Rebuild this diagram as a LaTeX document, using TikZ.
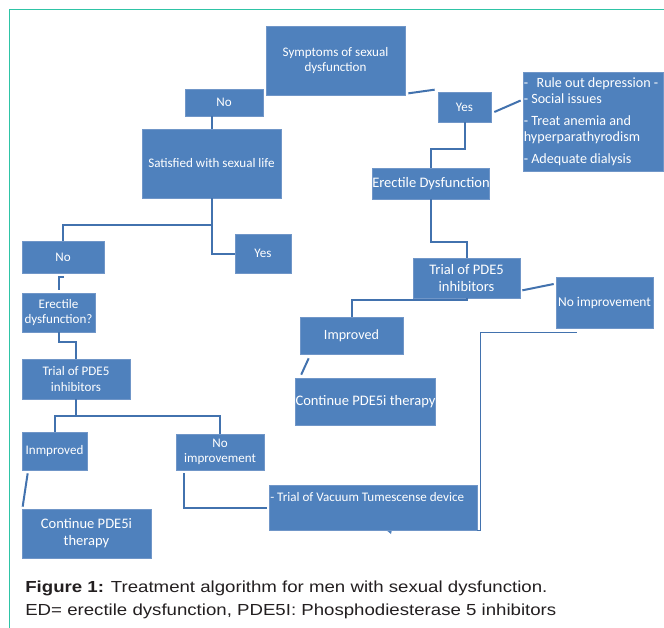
\documentclass[tikz,border=0pt]{standalone}
\usepackage{fontspec}
\setmainfont{Carlito}
\newfontfamily\capfont{Liberation Sans}
\usetikzlibrary{calc}
\definecolor{boxblue}{HTML}{4F81BD}
\definecolor{boxedge}{HTML}{7096C8}
\definecolor{linkblue}{HTML}{4272AE}
\definecolor{frameteal}{HTML}{2EC4A6}
\definecolor{captxt}{HTML}{231F20}
\newcommand{\mybox}[7][]{%
  \node[box, #1, minimum width={(#5-#3)*0.75pt}, minimum height={(#6-#4)*0.75pt}]
    (#2) at ({(#3+#5)/2},{(#4+#6)/2}) {#7};}
\begin{document}
\begin{tikzpicture}[x=0.75pt,y=-0.75pt,
  box/.style={draw=boxedge, line width=0.5pt, fill=boxblue, text=white, inner sep=0pt,
    align=center, font=\fontsize{9.8}{11.4}\selectfont},
  bigtext/.style={font=\fontsize{10.9}{12.8}\selectfont},
  txt/.style={text=white, inner sep=0pt, font=\fontsize{9.8}{11.4}\selectfont},
  captext/.style={anchor=base west, inner sep=0pt, text=captxt, xscale=1.165, transform shape,
    font=\capfont\fontsize{12}{14}\selectfont},
  link/.style={draw=linkblue, line width=1.5pt},
  thinlink/.style={draw=linkblue, line width=0.8pt}]
\useasboundingbox (0,0) rectangle (664,628);
\draw[frameteal, line width=1.2pt] (9.5,640) -- (9.5,9.5) -- (670,9.5);

% boxes
\mybox{sym}{266}{26}{405}{95}{Symptoms of sexual\\dysfunction}
\mybox{noa}{185}{89}{263}{116}{No}
\mybox{yesa}{438}{92}{491}{122}{Yes}
\mybox{rule}{523}{72}{663}{171}{}
\node[txt, anchor=north west, align=left, font=\fontsize{10.6}{12}\selectfont] (rulet) at (523.5,77.5)
  {-\hspace{0.6em}Rule out depression -\\- Social issues\\[4.5pt]- Treat anemia and\\hyperparathyrodism\\[4.5pt]- Adequate dialysis};
\mybox{sat}{142}{129}{281}{198}{Satisfied with sexual life}
\mybox{yesb}{235}{234}{291}{273}{Yes}
\mybox{nob}{22}{241}{104}{273}{No}
\mybox{edb}{22}{293}{95}{332}{Erectile\\dysfunction?}
\mybox{trb}{22}{359}{130}{399}{Trial of PDE5\\inhibitors}
\mybox{impb}{22}{432}{87}{470}{Inmproved}
\mybox{noimpb}{176}{434}{264}{470}{No\\improvement}
\mybox[bigtext]{contb}{22}{509}{151}{558}{Continue PDE5i\\therapy}
\fill[boxblue] (385,529) -- (392,529) -- (391,534) -- cycle;
\mybox{vac}{269}{485}{477}{530}{}
\node[txt, anchor=west] (vact) at (270,497) {- Trial of Vacuum Tumescense device};
\mybox[bigtext]{eda}{373}{168}{489}{199}{Erectile Dysfunction}
\mybox[bigtext]{tra}{413}{258}{520}{298}{Trial of PDE5\\inhibitors}
\mybox[font=\fontsize{10.1}{12}\selectfont]{noimpa}{556}{277}{653}{328}{No improvement}
\mybox[font=\fontsize{10.6}{12.5}\selectfont]{impa}{300}{317}{403}{354}{Improved}
\mybox[bigtext]{conta}{296}{378}{435}{425}{Continue PDE5i therapy}

% connectors
\draw[link] ($(sym.south east)+(3,-2)$) -- ($(yesa.north west)+(-3,-2)$);
\draw[link] (sat.north |- noa.south) -- (sat.north);
\draw[link] ($(yesa.east)+(3,5)$) -- ($(rule.west)+(-2,-21)$);
\draw[link] (yesa.south) -- ++(0,27) -| (eda.north);
\draw[link] (eda.south) |- ($(tra.north)+(0,-16)$) -- (tra.north);
\draw[link] ($(tra.south east)+(2,-8)$) -- ($(noimpa.west)+(-2,-18.5)$);
\draw[link] (tra.south) -- ++(0,2) -| (impa.north);
\draw[link] ($(impa.south west)+(9,4)$) -- ($(conta.north west)+(6,-3)$);
\draw[thinlink] ($(noimpa.south west)+(21,4)$) -| ($(vac.south east)+(3,0)$) -- (vac.south east);
\draw[link] (sat.south) |- (yesb.west);
\draw[link] ($(sat.south)+(0,27)$) -| (nob.north);
\draw[link] ($(nob.south)+(1,4)$) -| ($(edb.north)+(0.5,-3)$);
\draw[link] (edb.south) |- ($(trb.north)+(0,-17)$) -- (trb.north);
\draw[link] (trb.south) -- ++(0,17) coordinate (jb);
\draw[link] (impb.north) |- (jb) -| (noimpb.north);
\draw[link] ($(impb.south west)+(6,3)$) -- ($(contb.north west)+(1,-2)$);
\draw[link] ($(noimpb.south west)+(8,3)$) |- ($(vac.west)+(-2,0.5)$);

% caption
\node[captext] (cap1) at (25,592)
  {\textbf{Figure 1:} Treatment algorithm for men with sexual dysfunction.};
\node[captext] (cap2) at (25,615)
  {ED= erectile dysfunction, PDE5I: Phosphodiesterase 5 inhibitors};
\end{tikzpicture}
\end{document}
